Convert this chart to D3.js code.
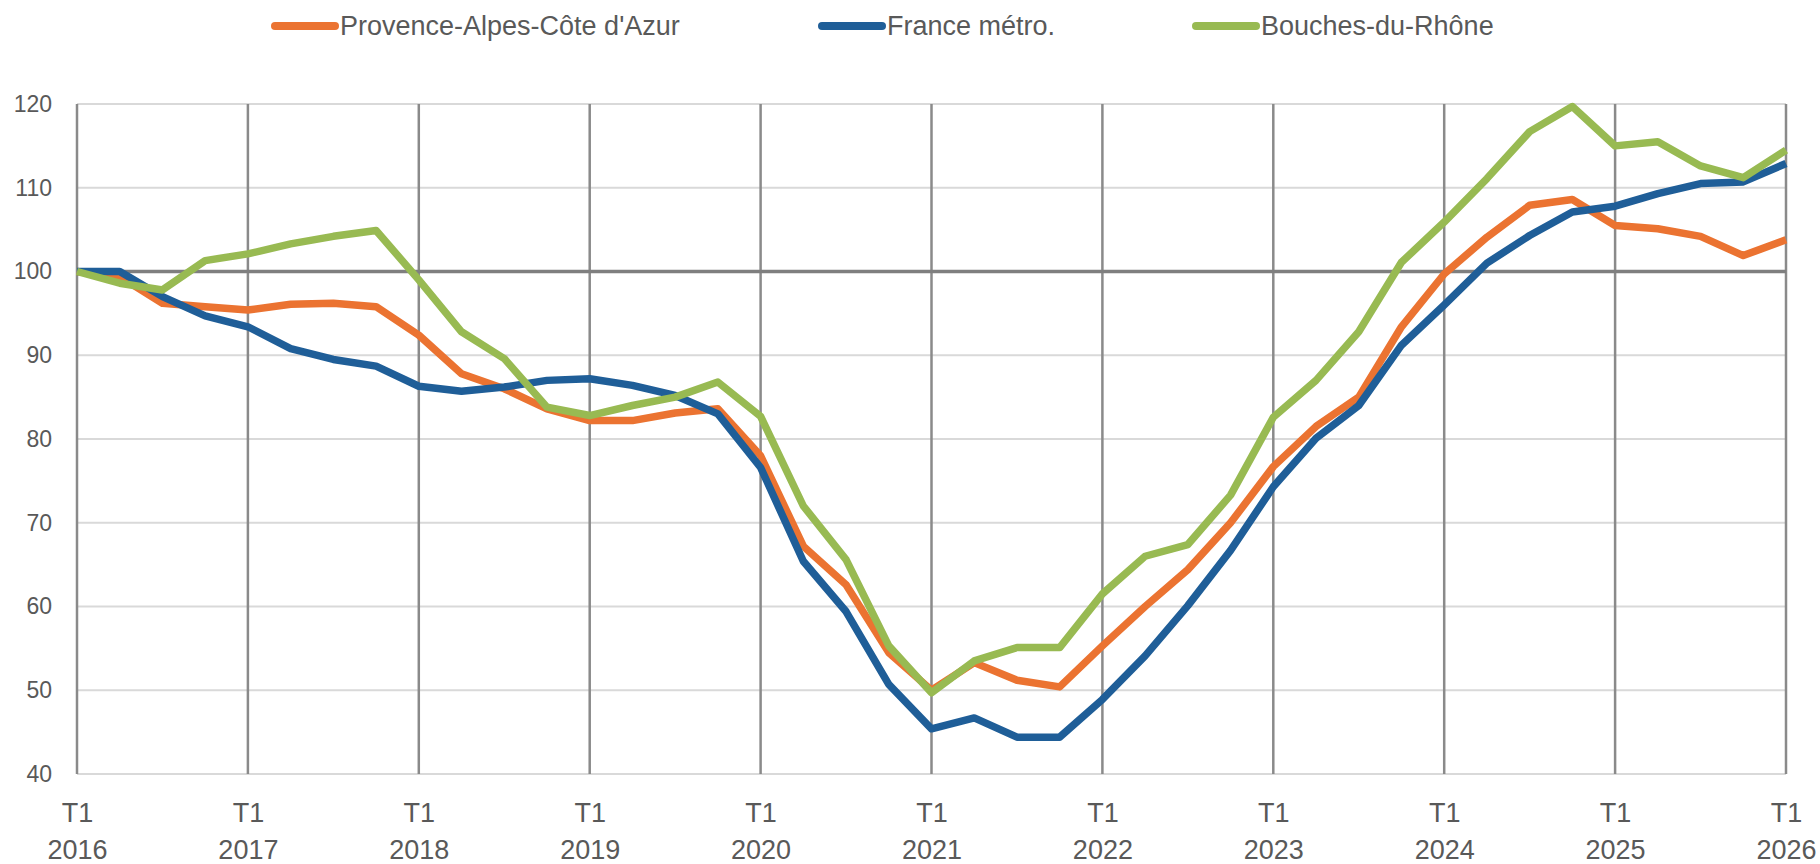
<!DOCTYPE html>
<html>
<head>
<meta charset="utf-8">
<script src="https://cdn.jsdelivr.net/npm/d3@7"></script>
<style>
	body { margin: 0; background: #ffffff; }
	svg text { font-family: 'Liberation Sans', Arial, sans-serif; fill: #595959; }
</style>
</head>
<body>
<div id="chart"></div>
<script>
'use strict';

// quarterly index, base 100 = T1 2016
var years = [2016, 2017, 2018, 2019, 2020, 2021, 2022, 2023, 2024, 2025, 2026];
var quarterLabel = 'T1';
var yTicks = [40, 50, 60, 70, 80, 90, 100, 110, 120];

var seriesNames = ["Provence-Alpes-Côte d'Azur", 'France métro.', 'Bouches-du-Rhône'];
var seriesColors = ['#eb7331', '#1f5e98', '#98ba52'];

var paca = [100, 99.4, 96.2, 95.8, 95.4, 96.1, 96.2, 95.8, 92.4, 87.8, 86.0, 83.6, 82.2, 82.2, 83.1, 83.6,
	78.0, 67.2, 62.6, 54.5, 50.0, 53.3, 51.2, 50.4, 55.3, 60.0, 64.4, 70.0, 76.7, 81.5, 85.0, 93.4,
	99.7, 104.1, 107.9, 108.6, 105.5, 105.1, 104.2, 101.9, 103.8];
var france = [100, 100, 97.0, 94.7, 93.4, 90.8, 89.5, 88.7, 86.3, 85.7, 86.2, 87.0, 87.2, 86.4, 85.2, 83.0,
	76.6, 65.4, 59.4, 50.7, 45.4, 46.7, 44.4, 44.4, 48.9, 54.1, 60.1, 66.7, 74.3, 80.1, 84.0, 91.2,
	96.0, 101.0, 104.3, 107.1, 107.8, 109.3, 110.5, 110.7, 112.9];
var bdr = [100, 98.6, 97.8, 101.3, 102.1, 103.3, 104.2, 104.9, 99.0, 92.8, 89.6, 83.8, 82.8, 84.0, 85.0, 86.8,
	82.7, 72.0, 65.6, 55.3, 49.7, 53.5, 55.1, 55.1, 61.5, 66.0, 67.4, 73.3, 82.6, 87.0, 92.8, 101.1,
	105.9, 111.1, 116.7, 119.7, 115.0, 115.5, 112.6, 111.2, 114.5];

var W = 1820, H = 864;
var margin = {top: 104, right: 34, bottom: 90, left: 77};
var width = W - margin.left - margin.right;
var height = H - margin.top - margin.bottom;

var svg = d3.select('#chart').append('svg')
	.attr('width', W)
	.attr('height', H);

var g = svg.append('g').attr('transform', 'translate(' + margin.left + ',' + margin.top + ')');

var nQ = paca.length - 1;
var xscale = d3.scaleLinear().domain([0, nQ]).range([0, width]);
var yscale = d3.scaleLinear().domain([40, 120]).range([height, 0]);

// horizontal gridlines
g.append('g').selectAll('line')
	.data(yTicks.filter(function(d) { return d !== 100; }))
	.enter().append('line')
	.attr('x1', 0)
	.attr('x2', width)
	.attr('y1', function(d) { return yscale(d); })
	.attr('y2', function(d) { return yscale(d); })
	.attr('stroke', '#d9d9d9')
	.attr('stroke-width', 2);

// vertical lines at each T1
var yearIdx = years.map(function(y, i) { return i * 4; });
g.append('g').selectAll('line')
	.data(yearIdx)
	.enter().append('line')
	.attr('x1', function(d) { return xscale(d); })
	.attr('x2', function(d) { return xscale(d); })
	.attr('y1', yscale(120))
	.attr('y2', yscale(40))
	.attr('stroke', '#8a8a8a')
	.attr('stroke-width', 2.5);

// base 100 line
g.append('line')
	.attr('x1', 0)
	.attr('x2', width)
	.attr('y1', yscale(100))
	.attr('y2', yscale(100))
	.attr('stroke', '#7f7f7f')
	.attr('stroke-width', 3.5);

// y axis labels
var yAxis = g.append('g')
	.call(d3.axisLeft(yscale).tickValues(yTicks).tickSize(0).tickPadding(25));
yAxis.select('.domain').remove();
yAxis.selectAll('text')
	.style('font-size', '23px')
	.attr('fill', '#595959');

// x axis labels (two lines)
var xAxis = g.append('g')
	.attr('transform', 'translate(0,' + height + ')')
	.call(d3.axisBottom(xscale).tickValues(yearIdx).tickSize(0).tickFormat(''));
xAxis.select('.domain').remove();
xAxis.selectAll('.tick text').remove();
xAxis.selectAll('.tick').each(function(d, i) {
	var t = d3.select(this).append('text')
		.attr('text-anchor', 'middle')
		.style('font-size', '27px')
		.attr('fill', '#595959');
	t.append('tspan').attr('x', 0).attr('y', 39).attr('dy', '0.35em').text(quarterLabel);
	t.append('tspan').attr('x', 0).attr('y', 76).attr('dy', '0.35em').text(years[i]);
});

// series lines
var line = d3.line()
	.x(function(d, i) { return xscale(i); })
	.y(function(d) { return yscale(d); });

var allSeries = [paca, france, bdr];
g.selectAll('.serie')
	.data(allSeries)
	.enter().append('path')
	.attr('class', 'serie')
	.attr('d', function(d) { return line(d); })
	.attr('fill', 'none')
	.attr('stroke', function(d, i) { return seriesColors[i]; })
	.attr('stroke-width', 7.5)
	.attr('stroke-linejoin', 'round')
	.attr('stroke-linecap', 'butt');

// legend
var legendX = [275, 822, 1196];
var legend = svg.append('g').attr('class', 'legend');
seriesNames.forEach(function(name, i) {
	var lg = legend.append('g').attr('transform', 'translate(' + legendX[i] + ',26)');
	lg.append('line')
		.attr('x1', 0)
		.attr('x2', 60)
		.attr('y1', 0)
		.attr('y2', 0)
		.attr('stroke', seriesColors[i])
		.attr('stroke-width', 8)
		.attr('stroke-linecap', 'round');
	lg.append('text')
		.attr('x', 65)
		.attr('y', 0)
		.attr('dy', '0.35em')
		.style('font-size', '27px')
		.text(name);
});
</script>
</body>
</html>
